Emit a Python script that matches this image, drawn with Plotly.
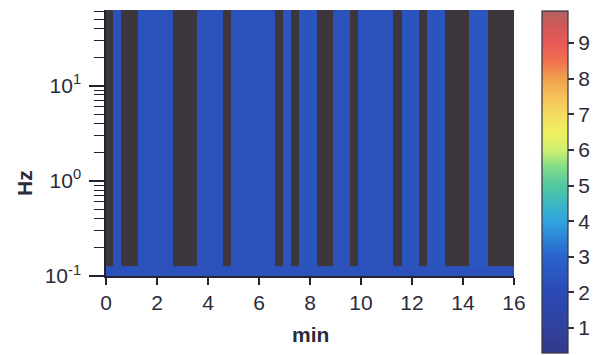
import plotly.graph_objects as go

# ---- data ----
# time segment edges (min); segments alternate: no data (dark) / data (blue)
time_edges = [0, 0.26, 0.59, 1.27, 2.62, 3.56, 4.60, 4.89, 6.63, 6.95, 7.24, 7.58,
              8.26, 8.91, 9.57, 9.89, 11.27, 11.60, 12.27, 12.60, 13.29, 14.24, 14.97, 16.0]
# value of each segment in the upper band (None = no data, dark)
band_values = [None, 2.3, None, 2.3, None, 2.3, None, 2.3, None, 2.5, None, 2.4,
               None, 2.3, None, 2.3, None, 2.4, None, 2.4, None, 2.5, None]
# value of each segment in the lowest frequency strip
low_values = [2.3] * 23
# frequency edges (Hz)
freq_edges = [0.1, 0.127, 62.5]

y_tickvals = [0.1, 1, 10]
y_ticktext = ["10<sup>-1</sup>", "10<sup>0</sup>", "10<sup>1</sup>"]
y_minor = [0.2, 0.3, 0.4, 0.5, 0.6, 0.7, 0.8, 0.9,
           2, 3, 4, 5, 6, 7, 8, 9, 20, 30, 40, 50, 60]
x_tickvals = [0, 2, 4, 6, 8, 10, 12, 14, 16]
cbar_ticks = [1, 2, 3, 4, 5, 6, 7, 8, 9]

cmin, cmax = 0.3, 9.9
stops = [(0.3, "#343a88"), (1.0, "#30429c"), (2.0, "#2b4ab4"), (3.0, "#2a62cc"),
         (4.0, "#30a4e0"), (4.5, "#3cb8c0"), (5.0, "#52c8a0"), (5.5, "#80dc88"),
         (6.0, "#d0f070"), (6.5, "#f0f060"), (7.0, "#f5dc60"), (7.5, "#f5c058"),
         (8.0, "#f0a050"), (8.5, "#f07050"), (9.0, "#e85858"), (9.5, "#d05858"),
         (9.9, "#b06060")]
colorscale = [[(v - cmin) / (cmax - cmin), c] for v, c in stops]

txt = "#2b2b3b"
font = dict(family="Liberation Sans, Arial, sans-serif", size=21, color=txt)

fig = go.Figure()
fig.add_trace(go.Heatmap(
    x=time_edges, y=freq_edges, z=[low_values, band_values],
    colorscale=colorscale, zmin=cmin, zmax=cmax, zsmooth=False,
    hoverongaps=False,
    colorbar=dict(
        x=(542 - 106) / 408, xanchor="left", xpad=0,
        y=(276 - 11) / 266, yanchor="top", ypad=0,
        lenmode="pixels", len=342, thicknessmode="pixels", thickness=26,
        outlinewidth=1.2, outlinecolor="#333340",
        tickvals=cbar_ticks, ticks="outside", ticklen=6, tickwidth=1.5,
        tickcolor="#333340", tickfont=font,
    ),
))

fig.update_layout(
    width=605, height=355,
    margin=dict(l=106, r=91, t=10, b=79),
    paper_bgcolor="white", plot_bgcolor="#3d363d",
    font=font, showlegend=False,
    xaxis=dict(range=[0, 16], tickvals=x_tickvals, ticks="outside", ticklen=7,
               tickwidth=1.5, tickcolor="#222230", showline=True, linecolor="#222230",
               linewidth=1.5, showgrid=False, zeroline=False, tickfont=font),
    yaxis=dict(type="log", range=[-1, 1.796], tickvals=y_tickvals, ticktext=y_ticktext,
               ticks="outside", ticklen=15, tickwidth=1.5, tickcolor="#222230",
               ticklabelstandoff=4,
               showline=True, linecolor="#222230", linewidth=1.5, showgrid=False,
               zeroline=False, tickfont=font,
               minor=dict(tickvals=y_minor, ticks="outside", ticklen=10, tickwidth=1.2,
                          tickcolor="#222230", showgrid=False)),
    annotations=[
        dict(text="<b>min</b>", x=0.5, y=-(334 - 276) / 266, xref="paper", yref="paper",
             showarrow=False, xanchor="center", yanchor="middle", font=font),
        dict(text="<b>Hz</b>", x=(24 - 106) / 408, y=(276 - 183) / 266, xref="paper",
             yref="paper", showarrow=False, xanchor="center", yanchor="middle",
             textangle=-90, font=font),
    ],
)

fig.write_html("out.html", config={"displayModeBar": False},
               post_script="document.body.style.margin='0';document.body.style.overflow='hidden';")
